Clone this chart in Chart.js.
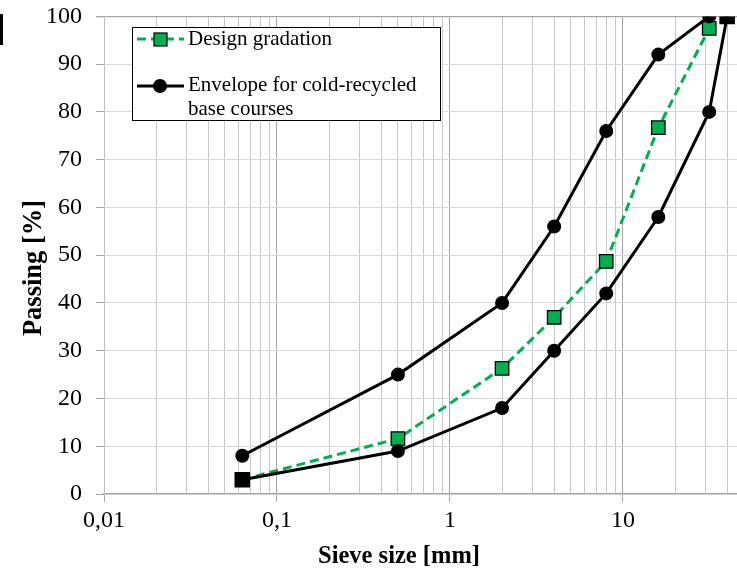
<!DOCTYPE html>
<html>
<head>
<meta charset="utf-8">
<script src="https://cdn.jsdelivr.net/npm/chart.js@4.4.1/dist/chart.umd.min.js"></script>
<style>
  html, body { margin: 0; padding: 0; background: #fff; overflow: hidden; }
  #wrap { position: relative; width: 737px; height: 571px; overflow: hidden; }
  #c { position: absolute; left: 0; top: -12px; }
  #mark { position: absolute; left: 0; top: 14px; width: 3px; height: 31px; background: #000; }
</style>
</head>
<body>
<div id="wrap">
  <canvas id="c" width="748" height="583"></canvas>
  <div id="mark"></div>
</div>
<script>
// ---- data ----
const sieveDesign   = [0.063, 0.5, 2, 4, 8, 16, 31.5];
const passDesign    = [3, 11.6, 26.3, 37, 48.7, 76.7, 97.5];
const sieveUpper    = [0.063, 0.5, 2, 4, 8, 16, 31.5];
const passUpper     = [8, 25, 40, 56, 76, 92, 100];
const sieveLower    = [0.063, 0.5, 2, 4, 8, 16, 31.5, 40];
const passLower     = [3, 9, 18, 30, 42, 58, 80, 100];
const xTickValues   = [0.01,0.02,0.03,0.04,0.05,0.06,0.07,0.08,0.09,
                       0.1,0.2,0.3,0.4,0.5,0.6,0.7,0.8,0.9,
                       1,2,3,4,5,6,7,8,9,10,20,30,40];
const xMajorLabels  = {0.01: '0,01', 0.1: '0,1', 1: '1', 10: '10'};
const legendLabels  = ['Design gradation', ['Envelope for cold-recycled', 'base courses']];
const xTitle = 'Sieve size [mm]';
const yTitle = 'Passing [%]';

const GREEN = '#00b050';
const SERIF = '"Liberation Serif", "Times New Roman", serif';
const SHIFT = 12; // canvas is placed 12px above the page top
const toPts = (xs, ys) => xs.map((x, i) => ({x: x, y: ys[i]}));
const isMajor = v => Object.prototype.hasOwnProperty.call(xMajorLabels, v);

const decorPlugin = {
  id: 'decor',
  afterDraw(chart) {
    const ctx = chart.ctx;
    ctx.save();
    ctx.translate(0, SHIFT);
    // axis titles
    ctx.fillStyle = '#000';
    ctx.textAlign = 'center';
    ctx.textBaseline = 'middle';
    ctx.font = 'bold 24.5px ' + SERIF;
    ctx.fillText(xTitle, 399, 557);
    ctx.save();
    ctx.translate(34, 268);
    ctx.rotate(-Math.PI / 2);
    ctx.font = 'bold 26.5px ' + SERIF;
    ctx.fillText(yTitle, 0, 0);
    ctx.restore();
    // legend
    ctx.fillStyle = '#fff';
    ctx.fillRect(132, 27, 308, 93);
    ctx.strokeStyle = '#000';
    ctx.lineWidth = 1;
    ctx.strokeRect(132.5, 27.5, 308, 93);
    ctx.strokeStyle = GREEN; ctx.lineWidth = 3; ctx.setLineDash([9, 5]);
    ctx.beginPath(); ctx.moveTo(137, 39); ctx.lineTo(184, 39); ctx.stroke();
    ctx.setLineDash([]);
    ctx.fillStyle = GREEN; ctx.fillRect(154, 33, 13, 13);
    ctx.strokeStyle = '#000'; ctx.lineWidth = 1.2; ctx.strokeRect(154, 33, 13, 13);
    ctx.strokeStyle = '#000'; ctx.lineWidth = 3;
    ctx.beginPath(); ctx.moveTo(137, 86); ctx.lineTo(184, 86); ctx.stroke();
    ctx.fillStyle = '#000'; ctx.beginPath(); ctx.arc(160, 86, 7, 0, Math.PI*2); ctx.fill();
    ctx.fillStyle = '#000';
    ctx.font = '21px ' + SERIF;
    ctx.textBaseline = 'middle';
    ctx.textAlign = 'left';
    ctx.fillText(legendLabels[0], 188, 39);
    ctx.fillText(legendLabels[1][0], 188, 85);
    ctx.fillText(legendLabels[1][1], 188, 109);
    ctx.restore();
  }
};

new Chart(document.getElementById('c'), {
  type: 'scatter',
  data: {
    datasets: [
      {
        label: 'Envelope lower',
        data: toPts(sieveLower, passLower),
        showLine: true,
        borderColor: '#000',
        borderWidth: 3,
        backgroundColor: '#000',
        pointBackgroundColor: '#000',
        pointBorderColor: '#000',
        pointStyle: sieveLower.map((v, i) => (i === 0 || i === sieveLower.length - 1) ? 'rect' : 'circle'),
        pointRadius: sieveLower.map((v, i) => (i === 0 || i === sieveLower.length - 1) ? 11 : 7),
        pointBorderWidth: 0,
        tension: 0
      },
      {
        label: 'Envelope upper',
        data: toPts(sieveUpper, passUpper),
        showLine: true,
        borderColor: '#000',
        borderWidth: 3,
        pointBackgroundColor: '#000',
        pointBorderColor: '#000',
        pointStyle: 'circle',
        pointRadius: 7,
        pointBorderWidth: 0,
        tension: 0
      },
      {
        label: 'Design gradation',
        data: toPts(sieveDesign, passDesign),
        showLine: true,
        borderColor: GREEN,
        borderWidth: 3,
        borderDash: [9, 5],
        pointBackgroundColor: GREEN,
        pointBorderColor: '#000',
        pointBorderWidth: 1.3,
        pointStyle: 'rect',
        pointRadius: sieveDesign.map((v, i) => i === 0 ? 0 : 9.5),
        tension: 0
      }
    ]
  },
  options: {
    responsive: false,
    animation: false,
    devicePixelRatio: 1,
    layout: { padding: { top: 0, right: 0, left: 0, bottom: 0 } },
    plugins: { legend: { display: false }, tooltip: { enabled: false } },
    scales: {
      x: {
        type: 'logarithmic',
        min: 0.01,
        max: 45.6,
        afterBuildTicks(scale) {
          scale.ticks = xTickValues.map(v => ({ value: v, major: isMajor(v) }));
        },
        afterFit(scale) { scale.height = 77; },
        border: { color: '#a6a6a6', width: 1.3 },
        grid: {
          color: ctx => (ctx.tick && isMajor(ctx.tick.value)) ? '#a6a6a6' : '#c8c8c8',
          tickColor: ctx => (ctx.tick && isMajor(ctx.tick.value)) ? '#a6a6a6' : 'rgba(0,0,0,0)',
          tickLength: 8,
          lineWidth: 1
        },
        ticks: {
          autoSkip: false,
          maxRotation: 0,
          padding: 4,
          color: '#000',
          font: { family: SERIF, size: 24 },
          callback: v => (isMajor(v) ? xMajorLabels[v] : '')
        },
        title: { display: false }
      },
      y: {
        min: 0,
        max: 100,
        afterFit(scale) { scale.width = 104; },
        border: { color: '#bfbfbf', width: 1 },
        grid: {
          color: ctx => (ctx.tick && ctx.tick.value === 100) ? '#a6a6a6' : '#d9d9d9',
          tickColor: '#a6a6a6',
          tickLength: 8,
          lineWidth: ctx => (ctx.tick && ctx.tick.value === 100) ? 1.3 : 1
        },
        ticks: {
          stepSize: 10,
          padding: 14,
          color: '#000',
          font: { family: SERIF, size: 24 }
        },
        title: { display: false }
      }
    }
  },
  plugins: [decorPlugin]
});
</script>
</body>
</html>
